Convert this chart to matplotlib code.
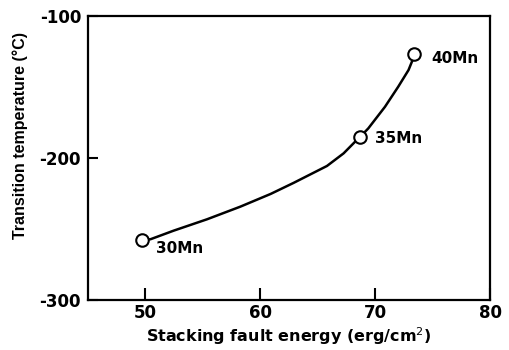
import matplotlib
matplotlib.use("Agg")
import matplotlib.pyplot as plt

plt.rcParams['font.family'] = ['DejaVu Sans']

# measured points
sfe = [49.7, 68.7, 73.4]
temp = [-258, -185, -126.5]
names = ['30Mn', '35Mn', '40Mn']

# hand-drawn curve
curve_x = [49.7, 50.45, 52.45, 55.35, 58.25, 60.9, 62.9, 65.8, 67.25,
           68.25, 68.7, 69.4, 70.85, 72.0, 72.9, 73.25, 73.4]
curve_y = [-258, -257.2, -251.2, -243.2, -234.3, -225.3, -217.5, -205.6, -196.7,
           -188.5, -185, -179.1, -163.9, -149.8, -138.0, -131.0, -126.5]

# label anchors
lab_x = [50.9, 70.0, 74.9]
lab_y = [-264, -186, -130]

fig = plt.figure(figsize=(5.1, 3.5), dpi=100)
ax = fig.add_axes([0.1725, 0.143, 0.7885, 0.811])

ax.plot(curve_x, curve_y, color='k', linewidth=1.8, zorder=2)
ax.plot(sfe, temp, 'o', markersize=9, markerfacecolor='white',
        markeredgecolor='k', markeredgewidth=1.5, zorder=3)
for i, nm in enumerate(names):
    ax.text(lab_x[i], lab_y[i], nm, fontsize=11, fontweight='bold',
            va='center', ha='left')

ax.set_xlim(45, 80)
ax.set_ylim(-300, -100)
ax.set_xticks([50, 60, 70, 80])
ax.set_yticks([-100, -200, -300])
ax.set_yticklabels(['-100', '-200', '-300'])
for s in ax.spines.values():
    s.set_linewidth(1.6)
ax.tick_params(axis='x', direction='in', length=9, width=1.5, labelsize=12, pad=3)
ax.tick_params(axis='y', direction='in', length=7, width=1.5, labelsize=12, pad=5)
for lbl in ax.get_xticklabels() + ax.get_yticklabels():
    lbl.set_fontweight('bold')

ax.set_xlabel("Stacking fault energy (erg/cm$^2$)", fontsize=11.5, fontweight='bold', labelpad=2)
ax.set_ylabel("Transition temperature (°C)", fontsize=11.5, fontweight='bold',
              family=['Liberation Sans', 'DejaVu Sans'])
ax.yaxis.set_label_coords(-0.15, 0.58)

plt.savefig("out.png", dpi=100)
